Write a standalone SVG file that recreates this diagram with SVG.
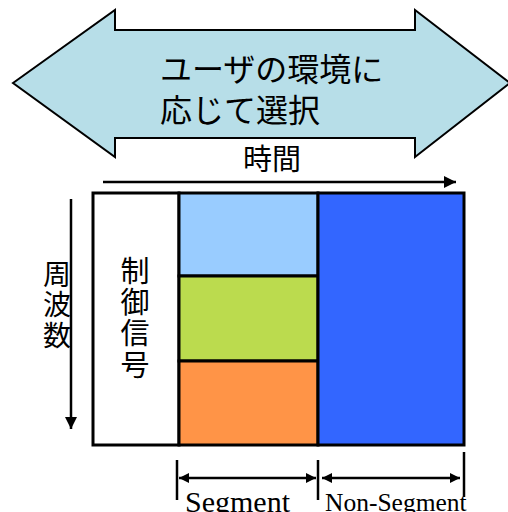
<svg xmlns="http://www.w3.org/2000/svg" width="508" height="512" viewBox="0 0 508 512">
<defs>
<style>
.jp{font-family:"Noto Sans CJK JP","Liberation Sans",sans-serif;fill:#000}
.en{font-family:"Liberation Serif",serif;fill:#000}
.ln{stroke:#000;stroke-width:2.5;fill:none}
.cell{stroke:#000;stroke-width:3}
</style>
<marker id="ah" viewBox="0 0 10 10" refX="10" refY="5" markerWidth="5" markerHeight="5" orient="auto-start-reverse" markerUnits="strokeWidth">
<path d="M0,0 L10,5 L0,10 z" fill="#000"/>
</marker>
<marker id="ahs" viewBox="0 0 10 10" refX="10" refY="5" markerWidth="4" markerHeight="5" orient="auto-start-reverse" markerUnits="strokeWidth">
<path d="M0,0 L10,5 L0,10 z" fill="#000"/>
</marker>
</defs>
<g id="choice">
<path d="M13,83 L115,10 L115,30 L415,30 L415,10 L510,83 L415,157 L415,138 L115,138 L115,157 Z" fill="#B7DEE8" stroke="#000" stroke-width="2"/>
<text class="jp" x="160" y="81" font-size="32">ユーザの環境に</text>
<text class="jp" x="160" y="122" font-size="32">応じて選択</text>
</g>
<g id="time-axis">
<text class="jp" x="272" y="170" font-size="29" text-anchor="middle">時間</text>
</g>
<g id="freq-axis">
<text class="jp" x="57" y="285" font-size="28" text-anchor="middle">周</text>
<text class="jp" x="57" y="315" font-size="28" text-anchor="middle">波</text>
<text class="jp" x="57" y="346" font-size="28" text-anchor="middle">数</text>
</g>
<g id="control">
<rect class="cell" x="93" y="193" width="86" height="252" fill="#fff"/>
<text class="jp" x="135" y="282" font-size="29" text-anchor="middle">制</text>
<text class="jp" x="135" y="313" font-size="29" text-anchor="middle">御</text>
<text class="jp" x="135" y="344" font-size="29" text-anchor="middle">信</text>
<text class="jp" x="135" y="376" font-size="29" text-anchor="middle">号</text>
</g>
<g id="seg1"><rect class="cell" x="179" y="193" width="139" height="83" fill="#99CCFF"/></g>
<g id="seg2"><rect class="cell" x="179" y="276" width="139" height="85" fill="#BBDB4E"/></g>
<g id="seg3"><rect class="cell" x="179" y="361" width="139" height="84" fill="#FF9447"/></g>
<g id="nonseg"><rect class="cell" x="318" y="193" width="146" height="252" fill="#3366FF"/></g>
<g id="labels">
<text class="en" x="185" y="512" font-size="30">Segment</text>
<text class="en" x="325" y="511" font-size="25.5">Non-Segment</text>
</g>
<g id="connectors">
<line class="ln" x1="103" y1="182" x2="456" y2="182" marker-end="url(#ah)"/>
<line class="ln" x1="71" y1="199" x2="71" y2="429" marker-end="url(#ah)"/>
<line class="ln" x1="177" y1="460" x2="177" y2="500"/>
<line class="ln" x1="318" y1="460" x2="318" y2="500"/>
<line class="ln" x1="464" y1="452" x2="464" y2="497"/>
<line class="ln" x1="179" y1="478" x2="316" y2="478" marker-start="url(#ahs)" marker-end="url(#ahs)"/>
<line class="ln" x1="322" y1="478" x2="460" y2="478" marker-start="url(#ahs)" marker-end="url(#ahs)"/>
</g>
</svg>
